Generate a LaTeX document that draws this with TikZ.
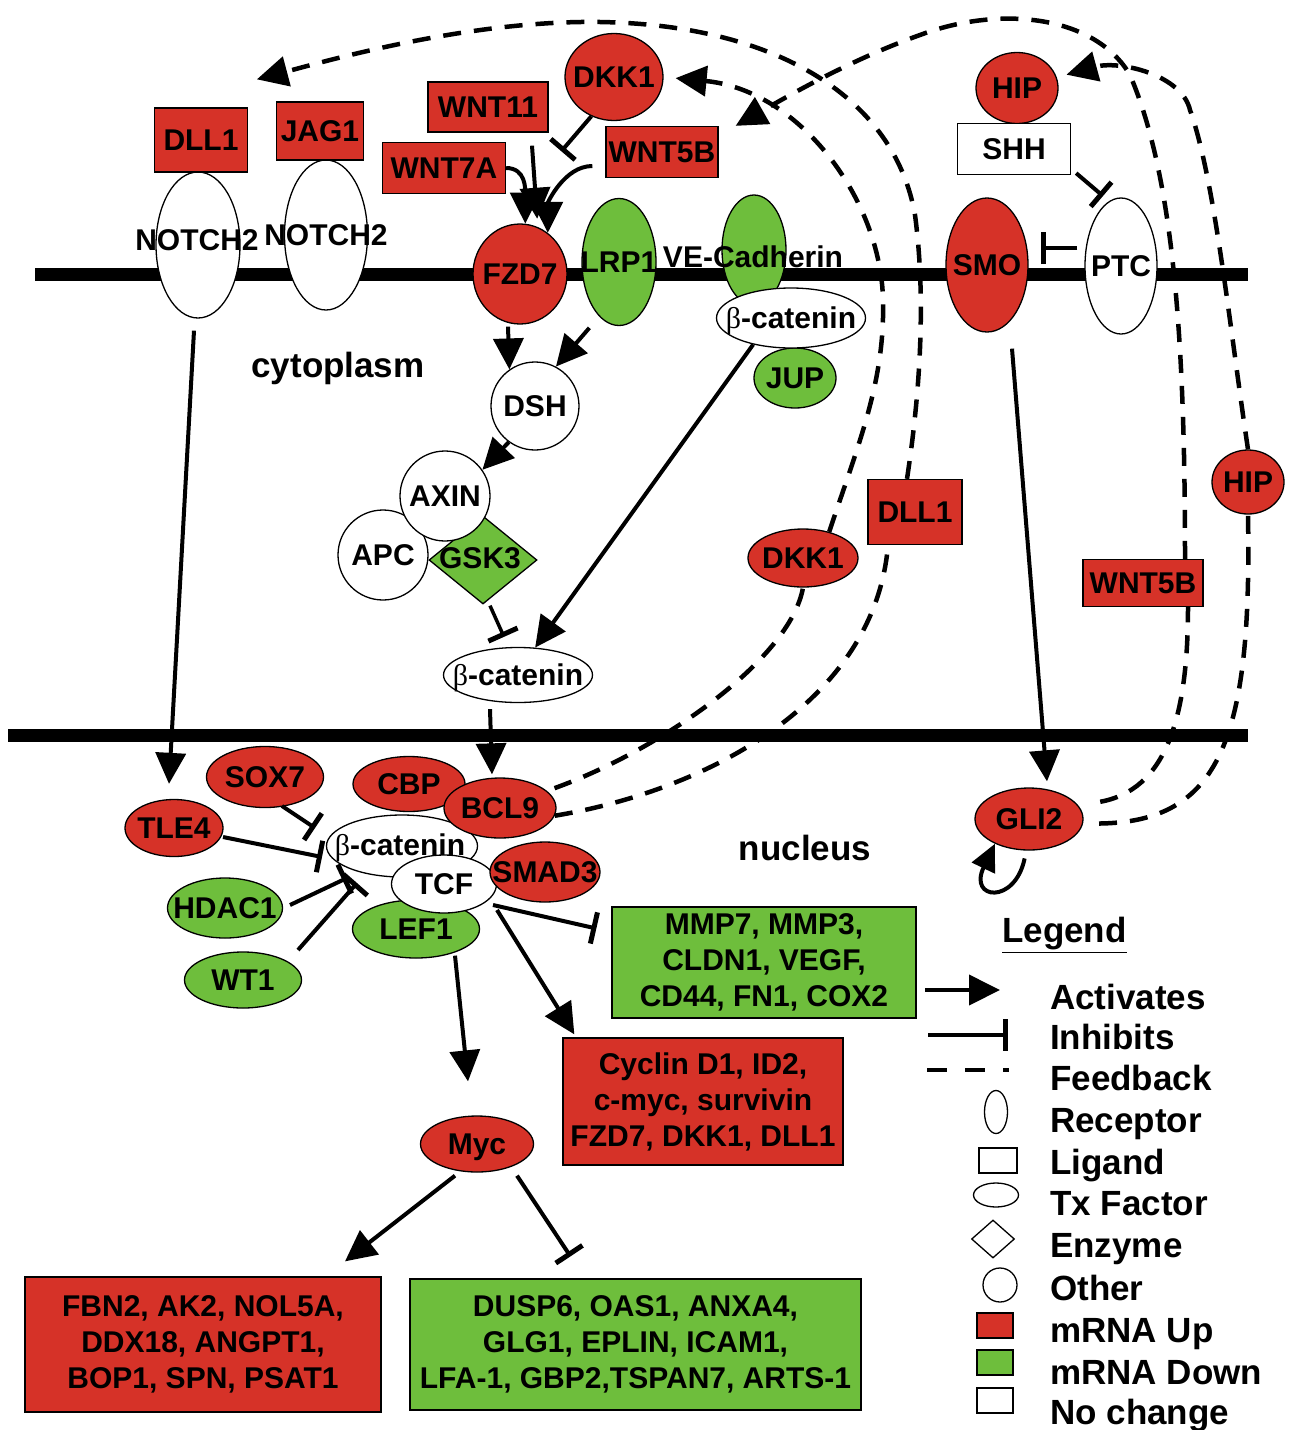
\documentclass[tikz,border=0pt]{standalone}
\usepackage{fontspec}
\setmainfont{Liberation Sans}
\newfontfamily\grk{Liberation Serif}
\usetikzlibrary{shapes.geometric,arrows.meta,calc}
\definecolor{upred}{RGB}{214,50,40}
\definecolor{dngreen}{RGB}{110,190,60}
\newcommand{\lbl}{\fontsize{30}{36}\selectfont\bfseries}
\newcommand{\lgd}{\fontsize{35}{40}\selectfont\bfseries}
\newcommand{\bcat}{{\grk\mdseries β}-catenin}
\tikzset{
  shp/.style={draw=black, line width=1.3pt, inner sep=0pt},
  ell/.style={shp, ellipse},
  bx/.style={shp, rectangle},
  circ/.style={shp, circle},
  dia/.style={shp, diamond},
  rfill/.style={fill=upred}, gfill/.style={fill=dngreen}, wfill/.style={fill=white},
  sz/.style 2 args={minimum width=#1pt, minimum height=#2pt},
  lbltxt/.style={text height=21.5pt, text depth=0pt, inner sep=0pt},
  lab/.style={label={[lbltxt]center:#1}},
  act/.style={line width=4pt, -{Triangle[length=31pt,width=30pt]}},
  inh/.style={line width=4pt, -{Bar[width=32pt,line width=5pt]}},
  fb/.style={line width=4.5pt, dash pattern=on 18pt off 13pt},
  fba/.style={fb, -{Triangle[length=31pt,width=30pt]}},
  lgt/.style={anchor=west, font=\lgd, inner sep=0pt, text height=25pt, text depth=0pt}
}
\begin{document}
\begin{tikzpicture}[x=1pt,y=-1pt,font=\lbl]
\useasboundingbox (0,0) rectangle (1289,1430);
\fill[white] (0,0) rectangle (1289,1430);
% membranes
\draw[line width=13pt] (35,274) -- (1248,274);
\draw[line width=13pt] (8,735) -- (1248,735);

% ---- top: receptors and ligands
\node[ell,wfill,sz={84}{146}] (n1) at (198,245) {};
\node[bx,rfill,sz={93}{64},lab=DLL1] (dll1t) at (201,140) {};
\node[ell,wfill,sz={83}{150}] (n2) at (326,235) {};
\node[bx,rfill,sz={87}{58},lab=JAG1] (jag1) at (320,131) {};
\node[lbltxt] (n1t) at (197,240) {NOTCH2};
\node[lbltxt] (n2t) at (326,235) {NOTCH2};
\node[bx,rfill,sz={120}{50},lab=WNT11] (wnt11) at (488,107) {};
\node[bx,rfill,sz={123}{51},lab=WNT7A] (wnt7a) at (444,168) {};
\node[ell,rfill,sz={98}{87},lab=DKK1] (dkk1) at (614,77) {};
\node[bx,rfill,sz={112}{51},lab=WNT5B] (wnt5b) at (662,152) {};
\node[ell,rfill,sz={94}{100},lab=FZD7] (fzd7) at (520,274) {};
\node[ell,gfill,sz={74}{127},lab=LRP1] (lrp1) at (619,262) {};
\node[ell,gfill,sz={64}{110}] (vec) at (754,250) {};
\node[ell,gfill,sz={82}{60},lab=JUP] (jup) at (795,378) {};
\node[ell,wfill,sz={149}{60},lab=\bcat] (bcatm) at (791,318) {};
\node[lbltxt] (vect) at (753,257) {VE-Cadherin};
\node[ell,rfill,sz={82}{71},lab=HIP] (hip) at (1017,88) {};
\node[bx,wfill,sz={113}{51},lab=SHH] (shh) at (1014,149) {};
\node[ell,rfill,sz={82}{134},lab=SMO] (smo) at (987,265) {};
\node[ell,wfill,sz={72}{136},lab=PTC] (ptc) at (1121,266) {};

% ---- cytoplasm
\node[font=\lgd,inner sep=0pt] (cyto) at (338,368) {cytoplasm};
\node[circ,wfill,minimum size=88pt,lab=DSH] (dsh) at (535,406) {};
\node[dia,gfill,sz={108}{88}] (gsk3) at (483,560) {};
\node[circ,wfill,minimum size=90pt,lab=APC] (apc) at (383,555) {};
\node[circ,wfill,minimum size=90pt,lab=AXIN] (axin) at (445,496) {};
\node[lbltxt] (gsk3t) at (480,558) {GSK3};
\node[ell,wfill,sz={149}{55},lab=\bcat] (bcatc) at (518,675) {};
\node[ell,rfill,sz={110}{58},lab=DKK1] (dkk1c) at (803,558) {};
\node[bx,rfill,sz={94}{65},lab=DLL1] (dllc) at (915,512) {};
\node[bx,rfill,sz={120}{47},lab=WNT5B] (wnt5bc) at (1143,583) {};
\node[ell,rfill,sz={72}{64},lab=HIP] (hipc) at (1248,482) {};

% ---- nucleus
\node[font=\lgd,inner sep=0pt] (nucl) at (805,848) {nucleus};
\node[ell,rfill,sz={117}{61},lab=SOX7] (sox7) at (265,777) {};
\node[ell,rfill,sz={98}{57},lab=TLE4] (tle4) at (174,828) {};
\node[ell,rfill,sz={112}{55},lab=CBP] (cbp) at (409,784) {};
\node[ell,wfill,sz={151}{62}] (bcatn) at (402,846) {};
\node[ell,rfill,sz={112}{60},lab=BCL9] (bcl9) at (500,808) {};
\node[ell,gfill,sz={127}{58},lab=LEF1] (lef1) at (416,929) {};
\node[ell,wfill,sz={105}{58},lab=TCF] (tcf) at (444,884) {};
\node[ell,rfill,sz={110}{60},lab=SMAD3] (smad3) at (545,872) {};
\node[lbltxt] (bcatnt) at (400,845) {\bcat};
\node[ell,gfill,sz={115}{60},lab=HDAC1] (hdac1) at (225,908) {};
\node[ell,gfill,sz={117}{56},lab=WT1] (wt1) at (243,980) {};
\node[ell,rfill,sz={108}{62},lab=GLI2] (gli2) at (1029,819) {};
\node[bx,gfill,sz={304}{111}] (mmp) at (764,962.5) {};
\node[align=center] (mmpt) at (mmp) {MMP7, MMP3,\\CLDN1, VEGF,\\CD44, FN1, COX2};
\node[bx,rfill,sz={280}{127}] (cyc) at (703,1101.5) {};
\node[align=center] (cyct) at (cyc) {Cyclin D1, ID2,\\c-myc, survivin\\FZD7, DKK1, DLL1};
\node[ell,rfill,sz={113}{56},lab=Myc] (myc) at (477,1144) {};
\node[bx,rfill,sz={356}{135}] (fbn) at (203,1344.5) {};
\node[align=center] (fbnt) at (fbn) {FBN2, AK2, NOL5A,\\DDX18, ANGPT1,\\BOP1, SPN, PSAT1};
\node[bx,gfill,sz={451}{131}] (dusp) at (635.5,1344.5) {};
\node[align=center] (duspt) at (dusp) {DUSP6, OAS1, ANXA4,\\GLG1, EPLIN, ICAM1,\\LFA-1, GBP2,TSPAN7, ARTS-1};

% ---- solid connectors
\draw[act] ($(wnt11.south)+(44,13)$) -- ($(fzd7.70)+(0,-8)$);
\draw[act] (wnt7a.east) .. controls +(20,0) and +(0,-34) .. (fzd7.84);
\draw[act] ($(wnt5b.west)+(-13,14)$) .. controls +(-28,0) and +(0,-30) .. (fzd7.56);
\draw[inh] (dkk1.-120) -- ($(dkk1.-120)+(-30,35)$);
\draw[act] ($(fzd7.south)+(-12,2)$) -- (dsh.125);
\draw[act, shorten <=15pt] (lrp1.-110) -- (dsh.62);
\draw[act] (dsh.-126) -- (axin.35);
\draw[act] (bcatm.-145) -- (bcatc.58);
\draw[inh, line width=3.5pt] ($(gsk3.south)+(7,1)$) -- ($(bcatc.north)+(-14,-10)$);
\draw[act] ($(bcatc.south)+(-28,6)$) -- ($(bcl9.north)+(-8,-3)$);
\draw[act] ($(n1.south)+(-4,12)$) -- ($(tle4.north)+(-5,-15)$);
\draw[act] ($(smo.south)+(25,16)$) -- ($(gli2.north)+(18,-6)$);
\draw[inh] ($(shh.south east)+(5,-2)$) -- ($(ptc)+(-18,-70)$);
\draw[inh] ($(ptc.west)+(-7,-18)$) -- ($(smo.east)+(12,-17)$);

\draw[inh] ($(sox7)+(17,29)$) -- ($(bcatn)+(-87,-18)$);
\draw[inh] ($(tle4)+(49,9)$) -- ($(bcatn)+(-80,11)$);
\draw[inh] ($(hdac1)+(65,-3)$) -- ($(bcatn)+(-55,32)$);
\draw[inh] ($(wt1)+(55,-30)$) -- ($(bcatn)+(-45,37)$);
\draw[inh] ($(tcf)+(49,21)$) -- ($(mmp.west)+(-15,-34)$);
\draw[act] ($(tcf)+(53,26)$) -- ($(cyc.north west)+(12,-3)$);
\draw[act] ($(lef1.south)+(39,-3)$) -- ($(myc.north)+(-9,-34)$);
\draw[act] ($(myc.south)+(-22,3)$) -- ($(fbn.north)+(142,-15)$);
\draw[inh] ($(myc.south)+(40,3)$) -- ($(dusp.north)+(-65,-22)$);
\draw[line width=4pt, -{Triangle[length=27pt,width=25pt]}, shorten <=8pt]
  (gli2.-95) .. controls (1015,905) and (968,900) .. (gli2.-144);

% ---- feedback
\coordinate (fbtipD) at ($(jag1.north west)+(-19,-22)$);
\draw[fb, shorten <=8pt] (bcl9.20) .. controls (660,750) and (790,660) .. (dkk1c.south);
\draw[fba, shorten >=12pt] (dkk1c.45) .. controls (860,440) and (885,380) .. (883,300)
   .. controls (881,200) and (800,90) .. (dkk1.east);
\draw[fb] (bcl9.-8) .. controls (710,790) and (875,700) .. ($(dllc.south)+(-27,0)$);
\draw[fba] ($(dllc.north)+(-8,0)$) .. controls (922,380) and (925,290) .. (915,215)
   .. controls (895,100) and (780,25) .. (600,22)
   .. controls (470,20) and (330,60) .. (fbtipD);
\draw[fb, shorten <=22pt] (gli2.15) .. controls (1165,790) and (1188,720) .. ($(wnt5bc.south)+(45,0)$);
\draw[fba] ($(wnt5bc.north)+(42,0)$) .. controls (1185,350) and (1175,180) .. (1130,75)
   .. controls (1095,15) and (1000,5) .. (920,35)
   .. controls (850,60) and (790,95) .. ($(wnt5b.north east)+(17,0)$);
\draw[fb, shorten <=16pt] (gli2.-5) .. controls (1220,822) and (1252,740) .. (hipc.south);
\draw[fba, shorten >=10pt] (hipc.north) .. controls (1230,330) and (1215,180) .. (1190,110)
   .. controls (1182,75) and (1120,60) .. (hip.15);

% ---- legend
\node[anchor=west,font=\lgd,inner sep=0pt] (legt) at (1002,935) {\underline{Legend}};
\coordinate (la1) at (925,990); \coordinate (la2) at (1000,990);
\draw[act] (la1) -- (la2);
\coordinate (li1) at (928,1035); \coordinate (li2) at (1008,1035);
\draw[inh] (li1) -- (li2);
\coordinate (lf1) at (927,1070); \coordinate (lf2) at (1009,1070);
\draw[fb, dash pattern=on 20pt off 18pt] (lf1) -- (lf2);
\node[ell,wfill,sz={23}{43}] (lrec) at (996,1112) {};
\node[bx,wfill,sz={38}{25}] (llig) at (998,1160.5) {};
\node[ell,wfill,sz={45}{24}] (ltx) at (996,1195) {};
\node[dia,wfill,sz={43}{38}] (lenz) at (993,1239) {};
\node[circ,wfill,minimum size=34pt] (loth) at (1000,1285) {};
\node[bx,rfill,sz={36}{25}] (lup) at (995,1325.5) {};
\node[bx,gfill,sz={36}{25}] (ldn) at (995,1362.5) {};
\node[bx,wfill,sz={36}{25}] (lnc) at (995,1400.5) {};
\node[lgt] (lt1) at (1050,997) {Activates};
\node[lgt] (lt2) at (1050,1037) {Inhibits};
\node[lgt] (lt3) at (1050,1078) {Feedback};
\node[lgt] (lt4) at (1050,1120) {Receptor};
\node[lgt] (lt5) at (1050,1162) {Ligand};
\node[lgt] (lt6) at (1050,1203) {Tx Factor};
\node[lgt] (lt7) at (1050,1245) {Enzyme};
\node[lgt] (lt8) at (1050,1288) {Other};
\node[lgt] (lt9) at (1050,1330) {mRNA Up};
\node[lgt] (lt10) at (1050,1372) {mRNA Down};
\node[lgt] (lt11) at (1050,1412) {No change};
\end{tikzpicture}
\end{document}
